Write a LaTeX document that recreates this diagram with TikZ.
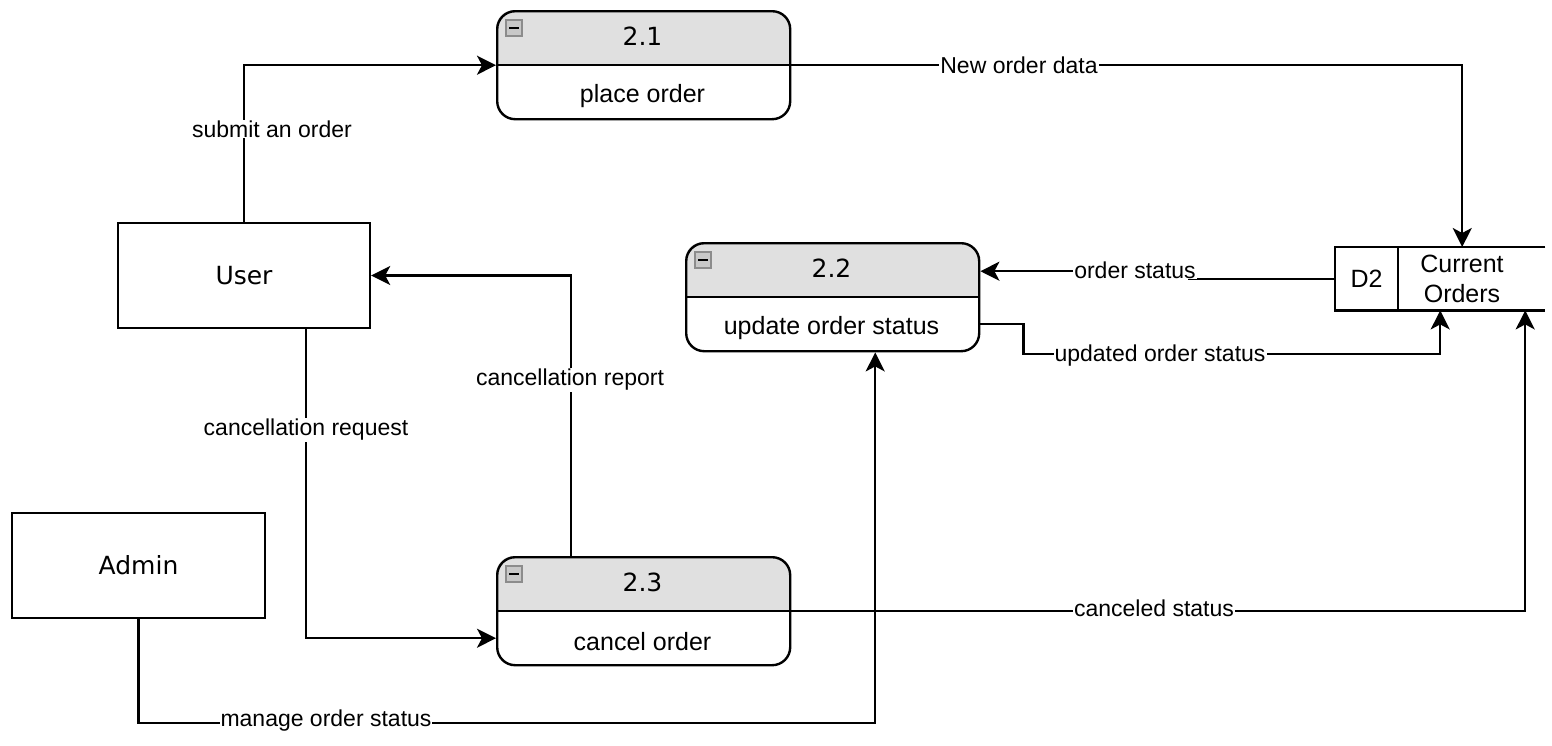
\documentclass[tikz,border=0pt]{standalone}
\usepackage{fontspec}
\setmainfont{Liberation Sans}
\newfontfamily\dejavu{DejaVu Sans}
\usetikzlibrary{arrows.meta}

\definecolor{headgray}{HTML}{E0E0E0}
\definecolor{icongray}{HTML}{C8C8C8}
\definecolor{iconline}{HTML}{8C8C8C}

\tikzset{
    entity/.style={draw, line width=2.4pt, inner sep=0, font=\dejavu\fontsize{25}{30}\selectfont},
    procbox/.style={draw, line width=2.4pt, rounded corners=18, minimum width=293, minimum height=108, inner sep=0},
    flow/.style={line width=2.4pt, -{Stealth[length=19pt,width=19pt,inset=5pt]}},
    flowlabel/.style={fill=white, inner sep=1, font=\fontsize{23}{27}\selectfont},
    proctext/.style={inner sep=0, font=\fontsize{25}{30}\selectfont},
    numtext/.style={inner sep=0, font=\dejavu\fontsize{25}{30}\selectfont}
}

% process: name, left, top, number, label
\newcommand{\dfdproc}[5]{
    \begin{scope}
        \clip[rounded corners=18] (#2,#3) rectangle ++(293,108);
        \fill[headgray] (#2,#3) rectangle ++(293,54);
    \end{scope}
    \node[procbox, anchor=north west] (#1) at (#2,#3) {};
    \draw[line width=2.4pt] (#1.west) -- (#1.east);
    \draw[line width=1.5pt, draw=iconline, fill=icongray] (#2+10,#3+10) rectangle ++(16,16);
    \draw[line width=2pt] (#2+13,#3+18) -- ++(10,0);
    \node[numtext] (#1-num) at (#2+146.5,#3+26) {#4};
    \node[proctext] (#1-txt) at (#2+146.5,#3+86) {#5};
}

\begin{document}
\begin{tikzpicture}[x=1pt, y=-1pt]
    \useasboundingbox (0,0) rectangle (1552,745);

    % external entities
    \node[entity, minimum width=252, minimum height=105] (user) at (244,275.5) {User};
    \node[entity, minimum width=253, minimum height=105] (admin) at (138.5,565.5) {Admin};

    % processes
    \dfdproc{p21}{496}{10}{2.1}{place order}
    \dfdproc{p22}{685}{242}{2.2}{update order status}
    \dfdproc{p23}{496}{556}{2.3}{cancel order}

    % data store
    \node[minimum width=210, minimum height=63, inner sep=0, anchor=north west] (d2) at (1335,247) {};
    \draw[line width=2.4pt] (d2.north east) -- (d2.north west) -- (d2.south west) -- (d2.south east);
    \draw[line width=2.4pt] (1398,247) -- (1398,310);
    \node[proctext] (d2-id) at (1366.5,279) {D2};
    \node[proctext, align=center] (d2-name) at (1462,279) {Current\\Orders};

    % flows
    \draw[flow] (user.north) |- (p21.west);
    \node[flowlabel] at (272,129) {submit an order};

    \draw[flow] (p21.east) -| ([xshift=22]d2.north);
    \node[flowlabel] at (1019,65) {New order data};

    \draw[flow] (d2.west) -- ++(-146,0) |- ([yshift=26]p22.east);
    \node[flowlabel] at (1135,270) {order status};

    \draw[flow] ([yshift=-27]p22.east) -- ++(43,0) -- ++(0,30) -| (d2.south);
    \node[flowlabel] at (1160,356) {updated order status};

    \draw[flow] ([xshift=-73]p23.north) |- (user.east);
    \node[flowlabel] at (570,380) {cancellation report};

    \draw[flow] ([xshift=62]user.south) |- ([yshift=-27]p23.west);
    \node[flowlabel] at (306,430) {cancellation request};

    \draw[flow] (p23.east) -| ([xshift=85]d2.south);
    \node[flowlabel] at (1154,608) {canceled status};

    \draw[flow] (admin.south) -- ++(0,104) -| ([xshift=42.5]p22.south);
    \node[flowlabel] at (326,721) {manage order status};
\end{tikzpicture}
\end{document}
